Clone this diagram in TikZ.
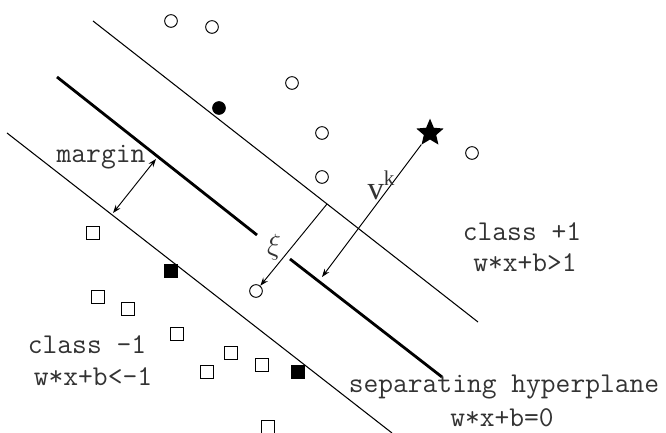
\documentclass[tikz,border=0pt]{standalone}
\usepackage{fontspec}
\newfontfamily\svmserif{Liberation Serif}
\usepackage{tikz}
\usetikzlibrary{shapes.geometric,arrows.meta}

\begin{document}
\begin{tikzpicture}[x=0.03cm, y=-0.03cm,
  every node/.style={font=\ttfamily\fontsize{24.5}{27}\selectfont, text=black!80, inner sep=1pt},
  posdot/.style={draw, circle, minimum size=0.38cm, inner sep=0pt, line width=0.8pt},
  negdot/.style={draw, rectangle, minimum size=0.38cm, inner sep=0pt, line width=0.8pt},
  gap/.style={line width=0.9pt},
  plane/.style={line width=2.4pt},
  ptr/.style={-{Stealth[length=7pt,width=5pt]}, line width=0.8pt}]
  \useasboundingbox (0,0) rectangle (666,433);
  % Margin lines and hyperplane
  \coordinate (up1) at (93,21);   \coordinate (up2) at (478,322);
  \coordinate (lo1) at (7,133);   \coordinate (lo2) at (392,433);
  \coordinate (hp1) at (57,77);   \coordinate (hp2) at (257,235);
  \coordinate (hp3) at (290,259); \coordinate (hp4) at (442,377);
  \draw[gap] (up1) -- (up2);
  \draw[gap] (lo1) -- (lo2);
  \draw[plane] (hp1) -- (hp2);
  \draw[plane] (hp3) -- (hp4);
  % Class +1 points
  \node[posdot] (c1) at (171,21) {};
  \node[posdot] (c2) at (212,27) {};
  \node[posdot] (c3) at (292,83) {};
  \node[posdot] (c4) at (322,133) {};
  \node[posdot] (c5) at (322,177) {};
  \node[posdot] (c6) at (472,153) {};
  \node[posdot] (c7) at (256,291) {};
  \node[posdot, fill=black] (c8) at (219,108) {};
  \node[star, star points=5, star point ratio=2.2, fill=black, minimum size=0.86cm, inner sep=0pt] (star) at (430,133) {};
  % Class -1 points
  \node[negdot] (s1) at (93,233) {};
  \node[negdot] (s2) at (98,297) {};
  \node[negdot] (s3) at (128,309) {};
  \node[negdot] (s4) at (177,334) {};
  \node[negdot] (s5) at (231,353) {};
  \node[negdot] (s6) at (207,372) {};
  \node[negdot] (s7) at (262,365) {};
  \node[negdot] (s8) at (268,427) {};
  \node[negdot, fill=black] (s9) at (171,271) {};
  \node[negdot, fill=black] (s10) at (298,372) {};
  % Margin, slack and distance arrows
  \coordinate (m1) at (156,159);
  \coordinate (m2) at (113,213);
  \draw[{Stealth[length=7pt,width=5pt]}-{Stealth[length=7pt,width=5pt]}, line width=0.8pt] (m2) -- (m1);
  \coordinate (xi0) at (327,204);
  \draw[ptr] (xi0) -- (c7);
  \coordinate (vk0) at (322,277);
  \draw[ptr] (star) -- (vk0);
  % Labels
  \node (marginlbl) at (101,157) {margin};
  \node (posclass) at (522,232) {class +1};
  \node (poseq) at (525,263) {w*x+b>1};
  \node (negclass) at (87,345) {class -1};
  \node (negeq) at (93,377) {w*x+b<-1};
  \node (seplbl) at (504,387) {separating hyperplane};
  \node (sepeq) at (502,418) {w*x+b=0};
  \node[font=\fontsize{24}{26}\selectfont] (xilbl) at (274,247) {$\xi$};
  \node[font=\svmserif\fontsize{28}{30}\selectfont] (vklbl) at (381,185) {v\raisebox{0.42em}{\fontsize{18}{19}\selectfont k}};
\end{tikzpicture}
\end{document}
